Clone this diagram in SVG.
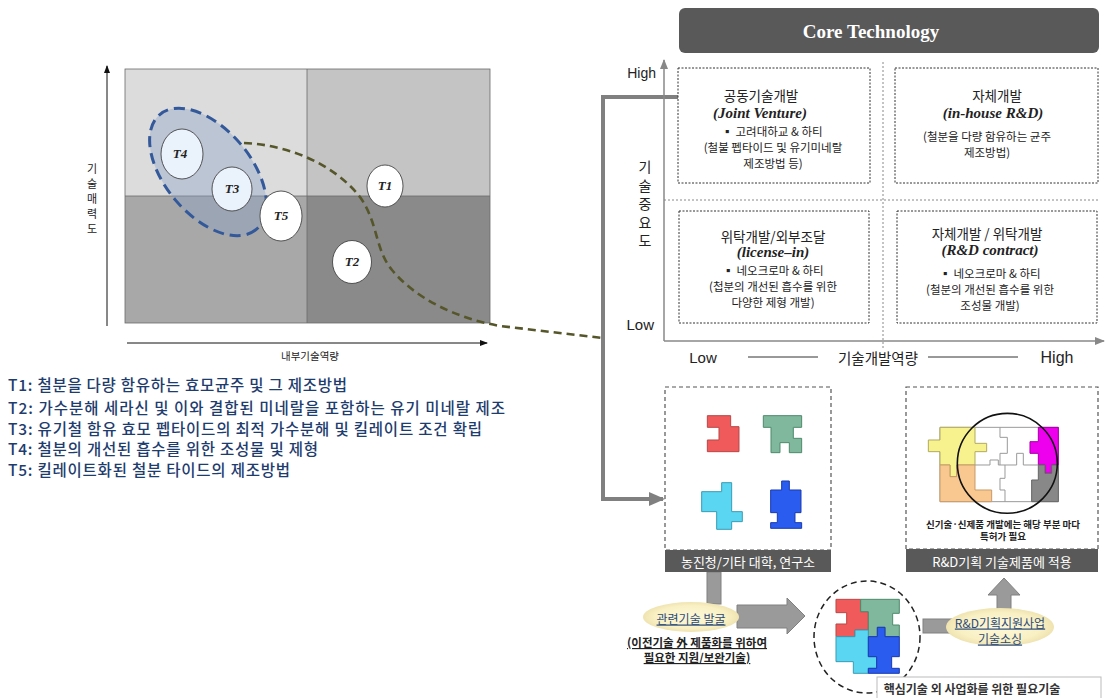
<svg xmlns="http://www.w3.org/2000/svg" width="1106" height="698" viewBox="0 0 1106 698">
  <style>
    .kr { font-family: "Noto Sans CJK KR", "Noto Sans", sans-serif; }
    .en { font-family: "Liberation Sans", Arial, sans-serif; }
    .tnode { font-family: "Liberation Serif", "Times New Roman", serif; font-style: italic; font-weight: bold; font-size: 13px; fill: #222; }
    .legend { font-family: "Noto Sans CJK KR", "Noto Sans", sans-serif; font-size: 15.5px; font-weight: 500; fill: #1e3c6e; }
    .qbox { fill: #ffffff; stroke: #333; stroke-width: 1; stroke-dasharray: 2 1.5; }
    .divider { stroke: #888; stroke-width: 1; stroke-dasharray: 2 2; fill: none; }
    .axis { stroke: #888; stroke-width: 1.5; fill: none; }
    .bar { fill: #595959; }
    .bartext { font-family: "Noto Sans CJK KR", sans-serif; font-size: 13px; fill: #ffffff; }
    .qt { font-family: "Noto Sans CJK KR", sans-serif; font-size: 11.5px; fill: #222; }
    .qh { font-family: "Noto Sans CJK KR", sans-serif; font-size: 13.5px; fill: #222; }
    .qe { font-family: "Liberation Serif", serif; font-style: italic; font-weight: bold; font-size: 15px; fill: #222; }
    .tnodeShape { stroke: #444; stroke-width: 0.9; }
    .pz { vector-effect: non-scaling-stroke; stroke-width: 1; }
    .link { font-family: "Noto Sans CJK KR", sans-serif; font-size: 12px; fill: #2c4a78; text-decoration: underline; }
    .blockarrow { fill: #9a9a9a; stroke: #808080; stroke-width: 1; }
  </style>
  <defs>
    <marker id="arrBlack" markerWidth="8" markerHeight="8" refX="7" refY="4" orient="auto" markerUnits="userSpaceOnUse">
      <path d="M0,1 L8,4 L0,7 Z" fill="#111"/>
    </marker>
    <marker id="arrGray" markerWidth="10" markerHeight="10" refX="9" refY="5" orient="auto" markerUnits="userSpaceOnUse">
      <path d="M0,1 L10,5 L0,9 Z" fill="#888"/>
    </marker>
    <marker id="arrThick" markerWidth="16" markerHeight="16" refX="14" refY="8" orient="auto" markerUnits="userSpaceOnUse">
      <path d="M0,1 L16,8 L0,15 Z" fill="#808080"/>
    </marker>
    <radialGradient id="ovalFill" cx="50%" cy="50%" r="50%">
      <stop offset="0%" stop-color="#fdf8d8"/>
      <stop offset="75%" stop-color="#f9f0c4"/>
      <stop offset="100%" stop-color="#efe3b0"/>
    </radialGradient>
  </defs>

  <rect width="1106" height="698" fill="#ffffff"/>

  <!-- ===== Left: portfolio matrix ===== -->
  <g id="matrix-left">
    <rect x="125" y="69" width="182" height="127" fill="#dcdcdc"/>
    <rect x="307" y="69" width="183" height="127" fill="#c4c4c4"/>
    <rect x="125" y="196" width="182" height="127" fill="#a8a8a8"/>
    <rect x="307" y="196" width="183" height="127" fill="#8a8a8a"/>
    <rect x="125" y="69" width="365" height="254" fill="none" stroke="#6a6a6a" stroke-width="0.8"/>
    <line x1="307" y1="69" x2="307" y2="323" stroke="#6a6a6a" stroke-width="0.8"/>
    <line x1="125" y1="196" x2="490" y2="196" stroke="#6a6a6a" stroke-width="0.8"/>
    <!-- axes -->
    <line x1="107" y1="326" x2="107" y2="66" stroke="#111" stroke-width="1" marker-end="url(#arrBlack)"/>
    <line x1="127" y1="343" x2="487" y2="343" stroke="#111" stroke-width="1" marker-end="url(#arrBlack)"/>
    <text class="kr" x="310" y="360" font-size="10.5" fill="#222" text-anchor="middle">내부기술역량</text>
    <g class="kr" font-size="11" fill="#222" text-anchor="middle" dominant-baseline="central">
      <text x="92" y="168">기</text>
      <text x="92" y="183">술</text>
      <text x="92" y="198">매</text>
      <text x="92" y="213">력</text>
      <text x="92" y="228">도</text>
    </g>
  </g>

  <!-- cluster outline around T3/T4 -->
  <g id="cluster">
    <ellipse cx="208" cy="172" rx="75" ry="43" transform="rotate(50 208 172)" fill="#8aa0c8" fill-opacity="0.38" stroke="#33599a" stroke-width="3" stroke-dasharray="11 6"/>
  </g>

  <!-- ===== Connectors ===== -->
  <g id="connectors">
    <!-- olive dashed link from the cluster to the core technology matrix -->
    <path d="M244,143 C290,145 335,165 360,197 C378,222 375,250 392,270 C415,298 455,318 500,326 L603,338" fill="none" stroke="#55562a" stroke-width="2.6" stroke-dasharray="8 5"/>
    <!-- thick gray elbow from joint venture quadrant to the source box -->
    <path d="M714,97 H603 V499 H663" fill="none" stroke="#808080" stroke-width="4" marker-end="url(#arrThick)"/>
    <path d="M714,91 L720,97 L714,103 L708,97 Z" fill="#808080"/>
    <!-- stem from source bar down to the discovery oval -->
    <rect x="707" y="572" width="14" height="32" fill="#9a9a9a" stroke="#808080" stroke-width="1"/>
    <!-- block arrow toward assembled puzzle -->
    <path class="blockarrow" d="M737,605 H787 V598 L805,616 L787,634 V628 H737 Z"/>
    <!-- bar from assembled puzzle to sourcing oval -->
    <rect x="923" y="619" width="40" height="14" fill="#9a9a9a" stroke="#808080" stroke-width="1"/>
    <!-- block arrow up to the R&D planning bar -->
    <path class="blockarrow" d="M997,609 V595 H988 L1004,578 L1020,595 H1011 V609 Z"/>
  </g>

  <!-- technology nodes -->
  <g id="node-T4">
    <ellipse class="tnodeShape" cx="182" cy="154" rx="21" ry="25" fill="#eaf2fb"/>
    <text class="tnode" x="180" y="158" text-anchor="middle">T4</text>
  </g>
  <g id="node-T3">
    <ellipse class="tnodeShape" cx="232" cy="189" rx="20" ry="22" fill="#eaf2fb"/>
    <text class="tnode" x="232" y="193" text-anchor="middle">T3</text>
  </g>
  <g id="node-T5">
    <ellipse class="tnodeShape" cx="281" cy="216" rx="21" ry="25" fill="#ffffff"/>
    <text class="tnode" x="281" y="220" text-anchor="middle">T5</text>
  </g>
  <g id="node-T1">
    <ellipse class="tnodeShape" cx="385" cy="186" rx="18" ry="21" fill="#ffffff"/>
    <text class="tnode" x="385" y="190" text-anchor="middle">T1</text>
  </g>
  <g id="node-T2">
    <ellipse class="tnodeShape" cx="352" cy="262" rx="19.5" ry="21.5" fill="#ffffff"/>
    <text class="tnode" x="352" y="266" text-anchor="middle">T2</text>
  </g>

  <!-- legend -->
  <g id="legend" dominant-baseline="central">
    <text class="legend" x="8" y="384" textLength="339" lengthAdjust="spacing">T1: 철분을 다량 함유하는 효모균주 및 그 제조방법</text>
    <text class="legend" x="8" y="407" textLength="497" lengthAdjust="spacing">T2: 가수분해 세라신 및 이와 결합된 미네랄을 포함하는 유기 미네랄 제조</text>
    <text class="legend" x="8" y="428" textLength="474" lengthAdjust="spacing">T3: 유기철 함유 효모 펩타이드의 최적 가수분해 및 킬레이트 조건 확립</text>
    <text class="legend" x="8" y="448" textLength="310" lengthAdjust="spacing">T4: 철분의 개선된 흡수를 위한 조성물 및 제형</text>
    <text class="legend" x="8" y="469" textLength="282" lengthAdjust="spacing">T5: 킬레이트화된 철분 타이드의 제조방법</text>
  </g>

  <!-- ===== Right: core technology matrix ===== -->
  <g id="core-header">
    <rect x="679" y="8" width="420" height="45" rx="6" fill="#595959"/>
    <text x="871" y="31" font-family="Liberation Serif, serif" font-weight="bold" font-size="19" fill="#ffffff" text-anchor="middle" dominant-baseline="central">Core Technology</text>
  </g>

  <g id="core-axes">
    <line class="axis" x1="664" y1="341" x2="664" y2="60" marker-end="url(#arrGray)"/>
    <line class="axis" x1="664" y1="341" x2="1104" y2="341" marker-end="url(#arrGray)"/>
    <line class="divider" x1="883" y1="62" x2="883" y2="350"/>
    <line class="divider" x1="664" y1="200" x2="1098" y2="200"/>
    <text class="en" x="656" y="73" font-size="14" fill="#222" text-anchor="end" dominant-baseline="central">High</text>
    <text class="en" x="654" y="324" font-size="15" fill="#222" text-anchor="end" dominant-baseline="central">Low</text>
    <g class="kr" font-size="14" fill="#222" text-anchor="middle" dominant-baseline="central">
      <text x="645" y="166">기</text>
      <text x="645" y="184.5">술</text>
      <text x="645" y="203">중</text>
      <text x="645" y="221.5">요</text>
      <text x="645" y="240">도</text>
    </g>
    <text class="en" x="703" y="357" font-size="15" fill="#222" text-anchor="middle" dominant-baseline="central">Low</text>
    <line x1="748" y1="357" x2="818" y2="357" stroke="#333" stroke-width="1"/>
    <text class="kr" x="878" y="357" font-size="14.5" fill="#222" text-anchor="middle" dominant-baseline="central">기술개발역량</text>
    <line x1="928" y1="357" x2="1018" y2="357" stroke="#333" stroke-width="1"/>
    <text class="en" x="1057" y="357" font-size="16" fill="#222" text-anchor="middle" dominant-baseline="central">High</text>
  </g>

  <g id="quad-joint-venture" text-anchor="middle" dominant-baseline="central">
    <rect class="qbox" x="678" y="68" width="192" height="115"/>
    <text class="qh" x="761" y="95">공동기술개발</text>
    <text class="qe" x="760" y="113">(Joint  Venture)</text>
    <text class="qt" x="772" y="131">▪ 고려대하교 &amp; 하티</text>
    <text class="qt" x="773" y="147">(철불 펩타이드 및  유기미네랄</text>
    <text class="qt" x="773" y="163">제조방법 등)</text>
  </g>

  <g id="quad-in-house" text-anchor="middle" dominant-baseline="central">
    <rect class="qbox" x="895" y="68" width="203" height="115"/>
    <text class="qh" x="997" y="95">자체개발</text>
    <text class="qe" x="993" y="113">(in-house R&amp;D)</text>
    <text class="qt" x="987" y="136">(철분을 다량 함유하는 균주</text>
    <text class="qt" x="987" y="152">제조방법)</text>
  </g>

  <g id="quad-license-in" text-anchor="middle" dominant-baseline="central">
    <rect class="qbox" x="679" y="211" width="190" height="112"/>
    <text class="qh" x="773" y="236">위탁개발/외부조달</text>
    <text class="qe" x="773" y="252">(license–in)</text>
    <text class="qt" x="773" y="270">▪ 네오크로마 &amp; 하티</text>
    <text class="qt" x="773" y="286">(첩분의 개선된 흡수를 위한</text>
    <text class="qt" x="773" y="302">다양한 제형 개발)</text>
  </g>

  <g id="quad-rd-contract" text-anchor="middle" dominant-baseline="central">
    <rect class="qbox" x="897" y="211" width="200" height="112"/>
    <text class="qh" x="987" y="233">자체개발 / 위탁개발</text>
    <text class="qe" x="990" y="250">(R&amp;D contract)</text>
    <text class="qt" x="990" y="273">▪ 네오크로마 &amp; 하티</text>
    <text class="qt" x="990" y="289">(철분의 개선된 흡수를 위한</text>
    <text class="qt" x="990" y="305">조성물 개발)</text>
  </g>

  <!-- ===== Bottom: sourcing flow ===== -->
  <g id="box-sources">
    <rect x="665" y="387" width="166" height="163" fill="#ffffff" stroke="#555" stroke-width="1.2" stroke-dasharray="4 3"/>
    <g transform="translate(690,400) scale(0.3333)">
      <path class="pz" fill="#f05a5a" stroke="#b84848" d="M52,47 H122 V80 H147 V155 H52 V120 H87 V82 H52 Z"/>
      <path class="pz" fill="#7fb89c" stroke="#4e8a6c" d="M220,47 H335 V82 H310 V115 H335 V158 H298 V128 H270 V158 H243 V82 H220 Z"/>
      <path class="pz" fill="#5ad6f2" stroke="#3a9cb4" d="M95,248 H125 V335 H157 V365 H125 V388 H80 V335 H35 V275 H95 Z"/>
      <path class="pz" fill="#2a5cf0" stroke="#1a3ab0" d="M275,243 H298 V270 H333 V338 H315 V368 H335 V385 H242 V368 H262 V338 H242 V270 H275 Z"/>
    </g>
    <rect class="bar" x="665" y="550" width="166" height="22"/>
    <text class="bartext" x="748" y="561" text-anchor="middle" dominant-baseline="central">농진청/기타 대학, 연구소</text>
  </g>

  <g id="box-rd-planning">
    <rect x="906" y="387" width="192" height="162" fill="#ffffff" stroke="#555" stroke-width="1.2" stroke-dasharray="4 3"/>
    <g transform="translate(920,410) scale(0.3333)">
      <rect class="pz" x="60" y="52" width="355" height="223" fill="#ffffff" stroke="#9a9a9a"/>
      <path class="pz" fill="#f8f28e" stroke="#b0aa60" d="M60,52 H165 V100 H200 V125 H165 V165 H110 V200 H90 V165 H60 V125 H25 V90 H60 Z"/>
      <path class="pz" fill="#f8c890" stroke="#c89a68" d="M60,165 H90 V200 H110 V165 H165 V240 H215 V275 H60 Z"/>
      <path class="pz" fill="#ee00ee" stroke="#a000a0" d="M355,52 H415 V165 H395 V190 H375 V165 H355 V130 H330 V95 H355 Z"/>
      <path class="pz" fill="#888888" stroke="#666" d="M355,165 H375 V190 H395 V165 H415 V275 H335 V210 H355 Z"/>
      <path class="pz" fill="none" stroke="#9a9a9a" d="M240,52 V82 H262 V130 H240 V165 M165,165 H210 V150 H235 V165 H290 V130 H310 V165 H355 M255,165 V205 H240 V240 H255 V275"/>
      <circle class="pz" cx="262" cy="160" r="150" fill="none" stroke="#111" style="stroke-width:1.6"/>
    </g>
    <text class="kr" x="1003" y="524" font-size="9.5" font-weight="bold" fill="#222" text-anchor="middle" dominant-baseline="central">신기술·신제품 개발에는 해당 부분 마다</text>
    <text class="kr" x="1003" y="536" font-size="9.5" font-weight="bold" fill="#222" text-anchor="middle" dominant-baseline="central">특허가 필요</text>
    <rect class="bar" x="906" y="549" width="192" height="23"/>
    <text class="bartext" x="1002" y="561" text-anchor="middle" dominant-baseline="central">R&amp;D기획  기술제품에 적용</text>
  </g>

  <g id="oval-discovery">
    <ellipse cx="691" cy="617" rx="48" ry="15" fill="url(#ovalFill)"/>
    <text class="link" x="691" y="618" text-anchor="middle" dominant-baseline="central">관련기술 발굴</text>
    <text class="kr" x="697" y="642" font-size="11.5" font-weight="bold" fill="#222" text-anchor="middle" dominant-baseline="central" text-decoration="underline">(이전기술 外 제품화를 위하여</text>
    <text class="kr" x="697" y="657" font-size="11.5" font-weight="bold" fill="#222" text-anchor="middle" dominant-baseline="central" text-decoration="underline">필요한 지원/보완기술)</text>
  </g>

  <g id="assembled-core">
    <ellipse cx="867" cy="637" rx="53" ry="56" fill="none" stroke="#222" stroke-width="1.5" stroke-dasharray="6 4"/>
    <g transform="translate(800,570) scale(0.3333)">
      <path class="pz" fill="#f05a5a" stroke="#b84848" d="M108,88 H182 V125 H205 V180 H165 V200 H108 V162 H140 V128 H108 Z"/>
      <path class="pz" fill="#7fb89c" stroke="#4e8a6c" d="M182,88 H298 V130 H278 V165 H298 V200 H255 V172 H232 V200 H205 V125 H182 Z"/>
      <path class="pz" fill="#5ad6f2" stroke="#3a9cb4" d="M108,200 H165 V180 H205 V260 H230 V295 H205 V310 H160 V275 H108 Z"/>
      <path class="pz" fill="#2a5cf0" stroke="#1a3ab0" d="M232,172 H255 V200 H298 V260 H275 V295 H298 V310 H205 V295 H230 V260 H205 V200 H232 Z"/>
    </g>
  </g>

  <g id="oval-sourcing">
    <ellipse cx="1000" cy="627" rx="54" ry="19" fill="url(#ovalFill)"/>
    <text class="link" x="1000" y="622" text-anchor="middle" dominant-baseline="central">R&amp;D기획지원사업</text>
    <text class="link" x="1000" y="638" text-anchor="middle" dominant-baseline="central">기술소싱</text>
  </g>

  <g id="caption-required">
    <rect x="877" y="677" width="224" height="24" fill="#ffffff" stroke="#bbbbbb" stroke-width="1"/>
    <text class="kr" x="972" y="688" font-size="12" font-weight="bold" fill="#333" text-anchor="middle" dominant-baseline="central">핵심기술 외 사업화를 위한 필요기술</text>
  </g>
</svg>
